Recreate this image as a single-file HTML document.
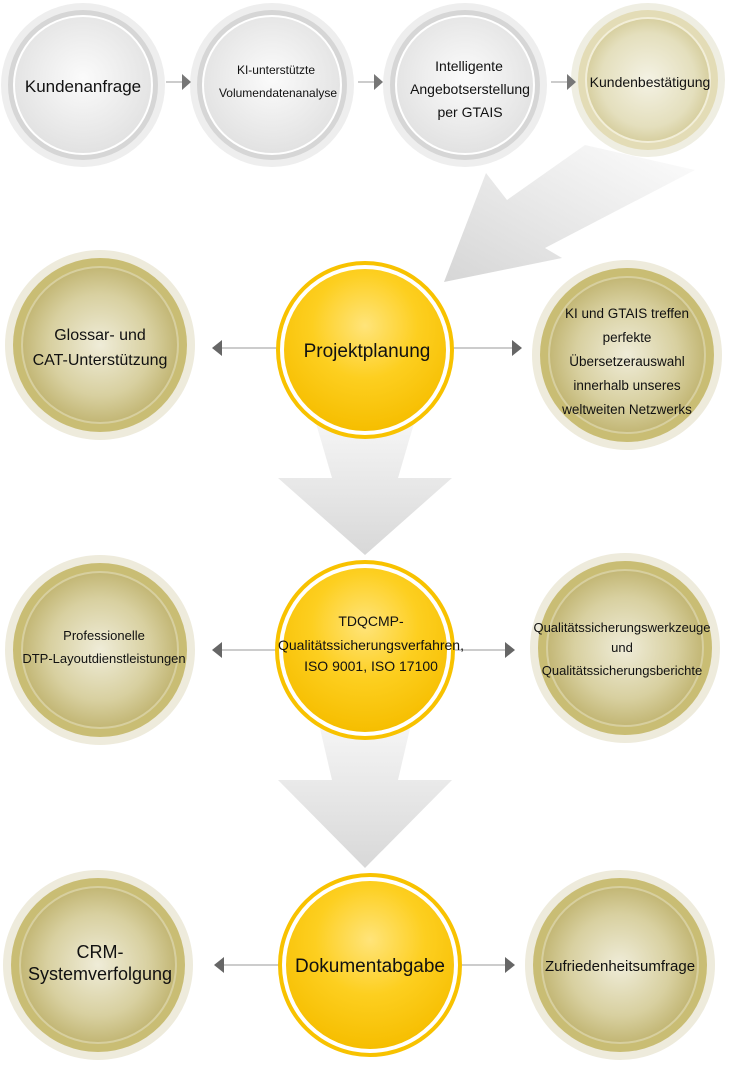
<!DOCTYPE html>
<html><head><meta charset="utf-8"><style>
html,body{margin:0;padding:0;background:#fff;}
svg{display:block}
text{font-family:"Liberation Sans",Arial,sans-serif;fill:#111;text-anchor:middle}
</style></head><body>
<svg width="729" height="1069" viewBox="0 0 729 1069">
<defs>
<radialGradient id="gr" cx="50%" cy="45%" r="55%"><stop offset="0" stop-color="#fbfbfb"/><stop offset="1" stop-color="#e2e2e2"/></radialGradient>
<radialGradient id="tn" cx="50%" cy="50%" r="55%"><stop offset="0" stop-color="#efecd8"/><stop offset="0.6" stop-color="#d8d0a0"/><stop offset="1" stop-color="#bdb06a"/></radialGradient>
<radialGradient id="tnl" cx="50%" cy="50%" r="55%"><stop offset="0" stop-color="#f4f2e4"/><stop offset="0.7" stop-color="#e4dfbd"/><stop offset="1" stop-color="#d2c995"/></radialGradient>
<radialGradient id="yl" cx="50%" cy="35%" r="65%"><stop offset="0" stop-color="#ffe47a"/><stop offset="0.5" stop-color="#fdcf20"/><stop offset="1" stop-color="#f6be00"/></radialGradient>
<linearGradient id="ar" x1="0" y1="0" x2="0" y2="1"><stop offset="0" stop-color="#f6f6f6"/><stop offset="1" stop-color="#d8d8d8"/></linearGradient>
<linearGradient id="ad" x1="1" y1="0" x2="0" y2="1"><stop offset="0" stop-color="#fdfdfd"/><stop offset="1" stop-color="#d6d6d6"/></linearGradient>
<g id="sa"><line x1="-14" y1="0" x2="2" y2="0" stroke="#ccc" stroke-width="2"/><polygon points="2,-8 11,0 2,8" fill="#777"/></g>
</defs>

<!-- diagonal big arrow -->
<polygon points="585,145 695,170 545,248 562,258 444,282 486,173 507,200" fill="url(#ad)"/>
<!-- down arrows -->
<polygon points="315,420 415,420 398,478 452,478 365,555 278,478 332,478" fill="url(#ar)"/>
<polygon points="318,720 412,720 398,780 452,780 365,868 278,780 332,780" fill="url(#ar)"/>

<!-- top row grey -->
<g>
<circle cx="83" cy="85" r="82" fill="#eeeeee"/><circle cx="83" cy="85" r="75" fill="#d6d6d6"/><circle cx="83" cy="85" r="70" fill="#fff"/><circle cx="83" cy="85" r="68" fill="url(#gr)"/>
<circle cx="272" cy="85" r="82" fill="#eeeeee"/><circle cx="272" cy="85" r="75" fill="#d6d6d6"/><circle cx="272" cy="85" r="70" fill="#fff"/><circle cx="272" cy="85" r="68" fill="url(#gr)"/>
<circle cx="465" cy="85" r="82" fill="#eeeeee"/><circle cx="465" cy="85" r="75" fill="#d6d6d6"/><circle cx="465" cy="85" r="70" fill="#fff"/><circle cx="465" cy="85" r="68" fill="url(#gr)"/>
<circle cx="648" cy="80" r="77" fill="#efeee2"/><circle cx="648" cy="80" r="70" fill="#e3dcb6"/><circle cx="648" cy="80" r="63" fill="#f2eed8"/><circle cx="648" cy="80" r="61" fill="url(#tnl)"/>
</g>
<use href="#sa" x="180" y="82"/><use href="#sa" x="372" y="82"/><use href="#sa" x="565" y="82"/>
<text x="83" y="92" font-size="17">Kundenanfrage</text>
<text x="276" y="74" font-size="12">KI-unterstützte</text>
<text x="278" y="97" font-size="12">Volumendatenanalyse</text>
<text x="469" y="71" font-size="14">Intelligente</text>
<text x="470" y="94" font-size="14">Angebotserstellung</text>
<text x="470" y="117" font-size="14">per GTAIS</text>
<text x="650" y="87" font-size="14">Kundenbestätigung</text>

<!-- side tan circles -->
<circle cx="100" cy="345" r="95" fill="#eeebdc"/><circle cx="100" cy="345" r="87" fill="#c9bd74"/><circle cx="100" cy="345" r="79" fill="#d7cf9f"/><circle cx="100" cy="345" r="77" fill="url(#tn)"/>
<circle cx="627" cy="355" r="95" fill="#eeebdc"/><circle cx="627" cy="355" r="87" fill="#c9bd74"/><circle cx="627" cy="355" r="79" fill="#d7cf9f"/><circle cx="627" cy="355" r="77" fill="url(#tn)"/>
<circle cx="100" cy="650" r="95" fill="#eeebdc"/><circle cx="100" cy="650" r="87" fill="#c9bd74"/><circle cx="100" cy="650" r="79" fill="#d7cf9f"/><circle cx="100" cy="650" r="77" fill="url(#tn)"/>
<circle cx="625" cy="648" r="95" fill="#eeebdc"/><circle cx="625" cy="648" r="87" fill="#c9bd74"/><circle cx="625" cy="648" r="79" fill="#d7cf9f"/><circle cx="625" cy="648" r="77" fill="url(#tn)"/>
<circle cx="98" cy="965" r="95" fill="#eeebdc"/><circle cx="98" cy="965" r="87" fill="#c9bd74"/><circle cx="98" cy="965" r="79" fill="#d7cf9f"/><circle cx="98" cy="965" r="77" fill="url(#tn)"/>
<circle cx="620" cy="965" r="95" fill="#eeebdc"/><circle cx="620" cy="965" r="87" fill="#c9bd74"/><circle cx="620" cy="965" r="79" fill="#d7cf9f"/><circle cx="620" cy="965" r="77" fill="url(#tn)"/>

<!-- connectors -->
<line x1="220" y1="348" x2="280" y2="348" stroke="#ccc" stroke-width="2"/><polygon points="222,340 212,348 222,356" fill="#666"/>
<line x1="450" y1="348" x2="512" y2="348" stroke="#ccc" stroke-width="2"/><polygon points="512,340 522,348 512,356" fill="#666"/>
<line x1="220" y1="650" x2="280" y2="650" stroke="#ccc" stroke-width="2"/><polygon points="222,642 212,650 222,658" fill="#666"/>
<line x1="450" y1="650" x2="505" y2="650" stroke="#ccc" stroke-width="2"/><polygon points="505,642 515,650 505,658" fill="#666"/>
<line x1="222" y1="965" x2="280" y2="965" stroke="#ccc" stroke-width="2"/><polygon points="224,957 214,965 224,973" fill="#666"/>
<line x1="462" y1="965" x2="505" y2="965" stroke="#ccc" stroke-width="2"/><polygon points="505,957 515,965 505,973" fill="#666"/>

<!-- yellow circles -->
<circle cx="365" cy="350" r="89" fill="#f8c200"/><circle cx="365" cy="350" r="85" fill="#fff"/><circle cx="365" cy="350" r="81" fill="url(#yl)"/>
<circle cx="365" cy="650" r="90" fill="#f8c200"/><circle cx="365" cy="650" r="86" fill="#fff"/><circle cx="365" cy="650" r="82" fill="url(#yl)"/>
<circle cx="370" cy="965" r="92" fill="#f8c200"/><circle cx="370" cy="965" r="88" fill="#fff"/><circle cx="370" cy="965" r="84" fill="url(#yl)"/>

<!-- labels -->
<text x="100" y="340" font-size="16">Glossar- und</text>
<text x="100" y="365" font-size="16">CAT-Unterstützung</text>
<text x="367" y="357" font-size="19">Projektplanung</text>
<text x="627" y="318" font-size="13.5">KI und GTAIS treffen</text>
<text x="627" y="342" font-size="13.5">perfekte</text>
<text x="627" y="366" font-size="13.5">Übersetzerauswahl</text>
<text x="627" y="390" font-size="13.5">innerhalb unseres</text>
<text x="627" y="403" font-size="13.5" dy="11">weltweiten Netzwerks</text>
<text x="104" y="640" font-size="13">Professionelle</text>
<text x="104" y="663" font-size="13">DTP-Layoutdienstleistungen</text>
<text x="371" y="626" font-size="14">TDQCMP-</text>
<text x="371" y="650" font-size="14">Qualitätssicherungsverfahren,</text>
<text x="371" y="671" font-size="14">ISO 9001, ISO 17100</text>
<text x="622" y="632" font-size="13">Qualitätssicherungswerkzeuge</text>
<text x="622" y="652" font-size="13">und</text>
<text x="622" y="675" font-size="13">Qualitätssicherungsberichte</text>
<text x="100" y="958" font-size="18">CRM-</text>
<text x="100" y="980" font-size="18">Systemverfolgung</text>
<text x="370" y="972" font-size="19">Dokumentabgabe</text>
<text x="620" y="971" font-size="15">Zufriedenheitsumfrage</text>
</svg>
</body></html>
